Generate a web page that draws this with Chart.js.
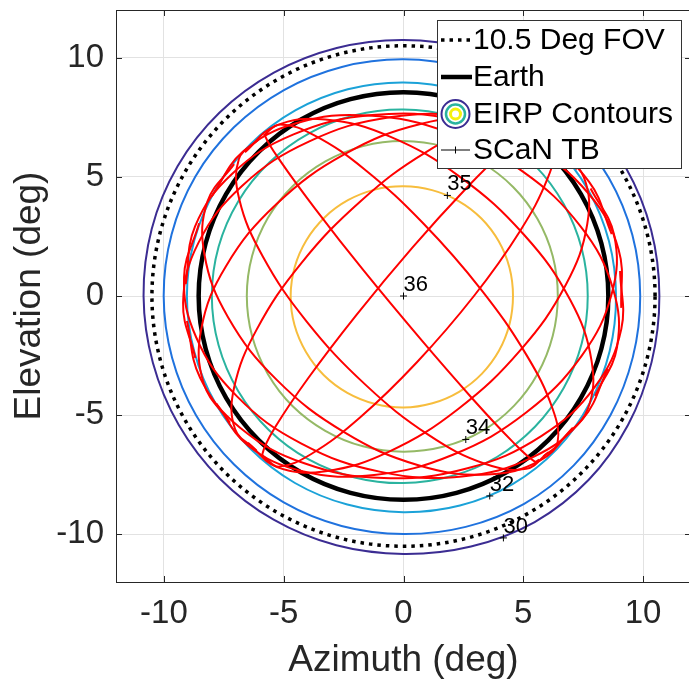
<!DOCTYPE html>
<html>
<head>
<meta charset="utf-8">
<script src="https://cdn.jsdelivr.net/npm/chart.js@4.4.0/dist/chart.umd.min.js"></script>
<style>
  html, body { margin: 0; padding: 0; background: #fff; overflow: hidden; }
</style>
</head>
<body>
<canvas id="chart" width="692" height="679"></canvas>
<script>
// Axis ticks (deg)
const axisTicks = [-10, -5, 0, 5, 10];

// Contour radii (deg), read every 15 deg counter-clockwise from +azimuth
const contourAngles = [0, 15, 30, 45, 60, 75, 90, 105, 120, 135, 150, 165,
  180, 195, 210, 225, 240, 255, 270, 285, 300, 315, 330, 345];
const eirpLevels = [30, 31, 32, 33, 34, 35];
const eirpColors = ["#3b2c92", "#1f72de", "#1ba2d8", "#2ab39f", "#95b966", "#f7bd3d"];
const eirp30 = [10.68, 10.7, 10.73, 10.75, 10.75, 10.74, 10.74, 10.77, 10.82, 10.87, 10.89, 10.88,
  10.85, 10.83, 10.83, 10.84, 10.84, 10.83, 10.82, 10.88, 10.95, 10.92, 10.82, 10.72];
const eirp31 = [9.88, 9.89, 9.9, 9.91, 9.92, 9.92, 9.93, 9.95, 9.98, 10.01, 10.03, 10.02,
  10.01, 10.0, 10.0, 10.0, 10.0, 9.99, 9.99, 10.03, 10.07, 10.05, 9.98, 9.91];
const eirp32 = [8.87, 8.88, 8.9, 8.92, 8.94, 8.95, 8.96, 8.98, 9.0, 9.02, 9.03, 9.04,
  9.04, 9.04, 9.05, 9.05, 9.06, 9.06, 9.07, 9.1, 9.11, 9.07, 8.98, 8.91];
const eirp33 = [7.69, 7.7, 7.72, 7.75, 7.78, 7.8, 7.82, 7.85, 7.88, 7.92, 7.96, 7.99,
  8.0, 7.99, 7.97, 7.95, 7.92, 7.88, 7.85, 7.82, 7.8, 7.76, 7.72, 7.7];
const eirp34 = [6.44, 6.45, 6.46, 6.47, 6.48, 6.49, 6.5, 6.51, 6.52, 6.53, 6.54, 6.54,
  6.54, 6.54, 6.54, 6.54, 6.53, 6.53, 6.53, 6.54, 6.55, 6.52, 6.48, 6.45];
const eirp35 = [4.57, 4.58, 4.59, 4.6, 4.6, 4.6, 4.6, 4.62, 4.64, 4.66, 4.68, 4.7,
  4.71, 4.71, 4.7, 4.7, 4.69, 4.68, 4.68, 4.66, 4.64, 4.62, 4.6, 4.58];

// Field of view and Earth disk radii (deg)
const fovRadius = 10.5;
const earthRadius = 8.55;

// SCaN TB visible passes, [az, el] in deg (northbound ones first)
const passN1 = [[-8.69, -2.6], [-9.2, -0.28], [-8.55, 2.25], [-6.73, 4.63], [-3.93, 6.49], [-0.57, 7.5], [2.82, 7.5], [5.72, 6.53], [7.74, 4.8], [8.69, 2.6]];
const passN2 = [[-7.24, -5.32], [-8.34, -3.66], [-8.44, -1.38], [-7.41, 1.25], [-5.31, 3.85], [-2.44, 5.96], [0.71, 7.22], [3.62, 7.48], [5.88, 6.78], [7.24, 5.32]];
const passN3 = [[-6.14, -6.48], [-7.03, -5.58], [-7.07, -3.84], [-6.13, -1.41], [-4.28, 1.36], [-1.78, 3.99], [0.91, 6.02], [3.33, 7.13], [5.13, 7.25], [6.14, 6.48]];
const passN4 = [[-5.68, -6.86], [-5.89, -6.63], [-5.34, -5.48], [-3.98, -3.45], [-1.97, -0.8], [0.37, 2.03], [2.61, 4.51], [4.36, 6.24], [5.4, 7.01], [5.68, 6.86]];
const passN5 = [[-5.79, -6.78], [-5.2, -7.16], [-3.85, -6.63], [-1.84, -5.12], [0.56, -2.78], [2.94, 0], [4.86, 2.72], [6.01, 4.92], [6.29, 6.3], [5.79, 6.78]];
const passN6 = [[-6.49, -6.16], [-5.28, -7.18], [-3.25, -7.35], [-0.6, -6.53], [2.27, -4.75], [4.88, -2.27], [6.78, 0.48], [7.67, 3.02], [7.53, 4.98], [6.49, 6.16]];
const passN7 = [[-7.81, -4.51], [-6.49, -6.27], [-4.22, -7.35], [-1.23, -7.51], [2.06, -6.66], [5.12, -4.89], [7.45, -2.49], [8.7, 0.13], [8.79, 2.57], [7.81, 4.51]];
const passN8 = [[-9.04, -1.05], [-8.49, -3.43], [-6.82, -5.53], [-4.14, -7.02], [-0.82, -7.64], [2.67, -7.23], [5.75, -5.88], [7.98, -3.82], [9.09, -1.39], [9.04, 1.05]];
const passS1 = [[-8.53, 3.05], [-9.16, 0.79], [-8.65, -1.74], [-6.96, -4.2], [-4.26, -6.19], [-0.95, -7.38], [2.44, -7.57], [5.38, -6.77], [7.48, -5.17], [8.53, -3.05]];
const passS2 = [[-7.07, 5.53], [-8.18, 3.97], [-8.31, 1.75], [-7.33, -0.88], [-5.29, -3.52], [-2.48, -5.71], [0.62, -7.1], [3.49, -7.49], [5.71, -6.9], [7.07, -5.53]];
const passS3 = [[-6.05, 6.56], [-6.87, 5.75], [-6.86, 4.08], [-5.89, 1.69], [-4.04, -1.07], [-1.57, -3.74], [1.06, -5.84], [3.4, -7.04], [5.12, -7.25], [6.05, -6.56]];
const passS4 = [[-5.66, 6.87], [-5.78, 6.72], [-5.13, 5.65], [-3.7, 3.68], [-1.65, 1.05], [0.69, -1.78], [2.88, -4.31], [4.54, -6.1], [5.48, -6.95], [5.66, -6.87]];
const passS5 = [[-5.84, 6.73], [-5.16, 7.2], [-3.72, 6.74], [-1.62, 5.31], [0.84, 3.03], [3.24, 0.27], [5.13, -2.47], [6.22, -4.72], [6.43, -6.17], [5.84, -6.73]];
const passS6 = [[-6.62, 6.03], [-5.36, 7.13], [-3.27, 7.41], [-0.56, 6.69], [2.37, 4.99], [5.03, 2.57], [6.95, -0.15], [7.85, -2.72], [7.69, -4.75], [6.62, -6.03]];
const passS7 = [[-8.0, 4.19], [-6.72, 6.04], [-4.48, 7.25], [-1.48, 7.57], [1.85, 6.87], [4.97, 5.23], [7.39, 2.92], [8.74, 0.32], [8.91, -2.16], [8.0, -4.19]];
const passS8 = [[-9.09, 0.5], [-8.7, 2.92], [-7.16, 5.12], [-4.59, 6.78], [-1.31, 7.59], [2.2, 7.4], [5.36, 6.23], [7.72, 4.3], [8.98, 1.94], [9.09, -0.5]];
const passes = [passN1, passN2, passN3, passN4, passN5, passN6, passN7, passN8,
  passS1, passS2, passS3, passS4, passS5, passS6, passS7, passS8];

// SCaN TB marks with their EIRP level labels
const markLabels = ["36", "35", "34", "32", "30"];
const markAz = [0, 1.83, 2.6, 3.6, 4.17];
const markEl = [0, 4.22, -6.02, -8.39, -10.15];

const FONT = "'Liberation Sans', Arial, Helvetica, sans-serif";
const AXIS_COLOR = "#262626";
// spline tension that keeps a 24 point ring round
const RING_TENSION = 0.34;

/**
 * Turns a radius list read at contourAngles into x/y points of a ring
 */
function polarPath(radii) {
  return contourAngles.map((a, i) => {
    const t = (a * Math.PI) / 180;
    return { x: radii[i] * Math.cos(t), y: radii[i] * Math.sin(t) };
  });
}

function constantRadii(r) {
  return contourAngles.map(() => r);
}

function toXY(pass) {
  return pass.map(([x, y]) => ({ x, y }));
}

function buildDatasets() {
  const sets = [];
  const radii = [eirp30, eirp31, eirp32, eirp33, eirp34, eirp35];
  radii.forEach((r, i) => {
    sets.push({
      label: `EIRP ${eirpLevels[i]}`,
      data: polarPath(r),
      borderColor: eirpColors[i],
      borderWidth: 2,
      tension: RING_TENSION,
      closed: true,
      order: 5,
    });
  });
  sets.push({
    label: "10.5 Deg FOV",
    data: polarPath(constantRadii(fovRadius)),
    borderColor: "#000",
    borderWidth: 3.5,
    borderDash: [3.5, 5],
    tension: RING_TENSION,
    closed: true,
    order: 4,
  });
  sets.push({
    label: "Earth",
    data: polarPath(constantRadii(earthRadius)),
    borderColor: "#000",
    borderWidth: 4.5,
    tension: RING_TENSION,
    closed: true,
    order: 3,
  });
  passes.forEach((p, i) => {
    sets.push({
      label: `pass ${i + 1}`,
      data: toXY(p),
      borderColor: "#ff0000",
      borderWidth: 2,
      order: 2,
    });
  });
  sets.push({
    label: "SCaN TB",
    data: markAz.map((x, i) => ({ x, y: markEl[i] })),
    showLine: false,
    pointStyle: "cross",
    pointRadius: 3.5,
    pointBorderWidth: 1,
    pointBorderColor: "#000",
    order: 1,
  });
  return sets;
}

// Rings are drawn as closed smooth loops (same trick the radar chart uses)
const ringPlugin = {
  id: "rings",
  afterDatasetUpdate(chart, args) {
    const ds = chart.data.datasets[args.index];
    if (ds.closed && args.meta.dataset) {
      args.meta.dataset._loop = true;
      args.meta.dataset._fullLoop = true;
    }
  },
};

// Matlab-like inward ticks, closed box, point labels and legend
const decorPlugin = {
  id: "decor",
  afterDatasetsDraw(chart) {
    const { ctx, scales } = chart;
    const ds = chart.data.datasets[chart.data.datasets.length - 1];
    ctx.save();
    ctx.fillStyle = "#000";
    ctx.font = `22px ${FONT}`;
    ctx.textBaseline = "alphabetic";
    ds.data.forEach((p, i) => {
      const px = scales.x.getPixelForValue(p.x);
      const py = scales.y.getPixelForValue(p.y);
      ctx.fillText(markLabels[i], px, py - 5);
    });
    ctx.restore();
  },
  afterDraw(chart) {
    const { ctx, chartArea: a, scales } = chart;
    ctx.save();
    ctx.strokeStyle = AXIS_COLOR;
    ctx.lineWidth = 1;
    ctx.beginPath();
    ctx.moveTo(a.left, a.top + 0.5);
    ctx.lineTo(a.right, a.top + 0.5);
    ctx.moveTo(a.right - 0.5, a.top);
    ctx.lineTo(a.right - 0.5, a.bottom);
    axisTicks.forEach((v) => {
      const px = Math.round(scales.x.getPixelForValue(v)) + 0.5;
      const py = Math.round(scales.y.getPixelForValue(v)) + 0.5;
      ctx.moveTo(px, a.bottom);
      ctx.lineTo(px, a.bottom - 6);
      ctx.moveTo(px, a.top);
      ctx.lineTo(px, a.top + 6);
      ctx.moveTo(a.left, py);
      ctx.lineTo(a.left + 6, py);
      ctx.moveTo(a.right, py);
      ctx.lineTo(a.right - 6, py);
    });
    ctx.stroke();

    // legend box
    const bx = 437.5, by = 20.5, bw = 244, bh = 148;
    ctx.fillStyle = "#fff";
    ctx.fillRect(bx, by, bw, bh);
    ctx.strokeStyle = "#333";
    ctx.strokeRect(bx, by, bw, bh);
    const rows = [40, 77, 114, 150];
    const x0 = 441, x1 = 470, tx = 473;
    ctx.strokeStyle = "#000";
    // dotted FOV
    ctx.lineWidth = 3.5;
    ctx.setLineDash([3.5, 5]);
    ctx.beginPath();
    ctx.moveTo(x0, rows[0]);
    ctx.lineTo(x1, rows[0]);
    ctx.stroke();
    ctx.setLineDash([]);
    // Earth
    ctx.lineWidth = 4.5;
    ctx.beginPath();
    ctx.moveTo(x0, rows[1]);
    ctx.lineTo(x1 + 2, rows[1]);
    ctx.stroke();
    // EIRP rings
    const cx = 455.5;
    [[14, "#3b2c92", 2], [9.5, "#2ab39f", 2.5], [5, "#f5f10f", 3]].forEach(([r, c, w]) => {
      ctx.strokeStyle = c;
      ctx.lineWidth = w;
      ctx.beginPath();
      ctx.arc(cx, rows[2], r, 0, Math.PI * 2);
      ctx.stroke();
    });
    // SCaN TB
    ctx.strokeStyle = "#000";
    ctx.lineWidth = 1;
    ctx.beginPath();
    ctx.moveTo(x0, rows[3]);
    ctx.lineTo(x1, rows[3]);
    ctx.moveTo(cx, rows[3] - 3.5);
    ctx.lineTo(cx, rows[3] + 3.5);
    ctx.stroke();

    ctx.fillStyle = "#000";
    ctx.font = `30px ${FONT}`;
    ctx.textBaseline = "middle";
    ["10.5 Deg FOV", "Earth", "EIRP Contours", "SCaN TB"].forEach((t, i) => {
      ctx.fillText(t, tx, rows[i] + 1);
    });
    ctx.restore();
  },
};

function axisConfig(title, titlePad, fit) {
  return {
    type: "linear",
    min: -12,
    max: 12,
    afterBuildTicks: (scale) => {
      scale.ticks = axisTicks.map((v) => ({ value: v }));
    },
    afterFit: (scale) => {
      fit(scale);
      // keep the plot box fixed, labels may overhang
      scale.paddingTop = 0;
      scale.paddingBottom = 0;
      scale.paddingLeft = 0;
      scale.paddingRight = 0;
    },
    grid: { color: "#e2e2e2", lineWidth: 1, drawTicks: false },
    border: { display: true, color: AXIS_COLOR, width: 1 },
    ticks: {
      color: AXIS_COLOR,
      font: { family: FONT, size: 33 },
      padding: 12,
      callback: (v) => String(v),
    },
    title: {
      display: true,
      text: title,
      color: AXIS_COLOR,
      font: { family: FONT, size: 37, lineHeight: 1 },
      padding: { top: titlePad, bottom: 0 },
    },
  };
}

new Chart(document.getElementById("chart"), {
  type: "scatter",
  data: { datasets: buildDatasets() },
  options: {
    responsive: false,
    animation: false,
    layout: { autoPadding: false, padding: { top: 10, right: 1, left: 0, bottom: 0 } },
    showLine: true,
    elements: {
      point: { radius: 0 },
      line: { tension: 0.4, fill: false },
    },
    plugins: {
      legend: { display: false },
      tooltip: { enabled: false },
    },
    scales: {
      x: axisConfig("Azimuth (deg)", 3, (s) => { s.height = 97; }),
      y: axisConfig("Elevation (deg)", 11, (s) => { s.width = 116; }),
    },
  },
  plugins: [ringPlugin, decorPlugin],
});
</script>
</body>
</html>
